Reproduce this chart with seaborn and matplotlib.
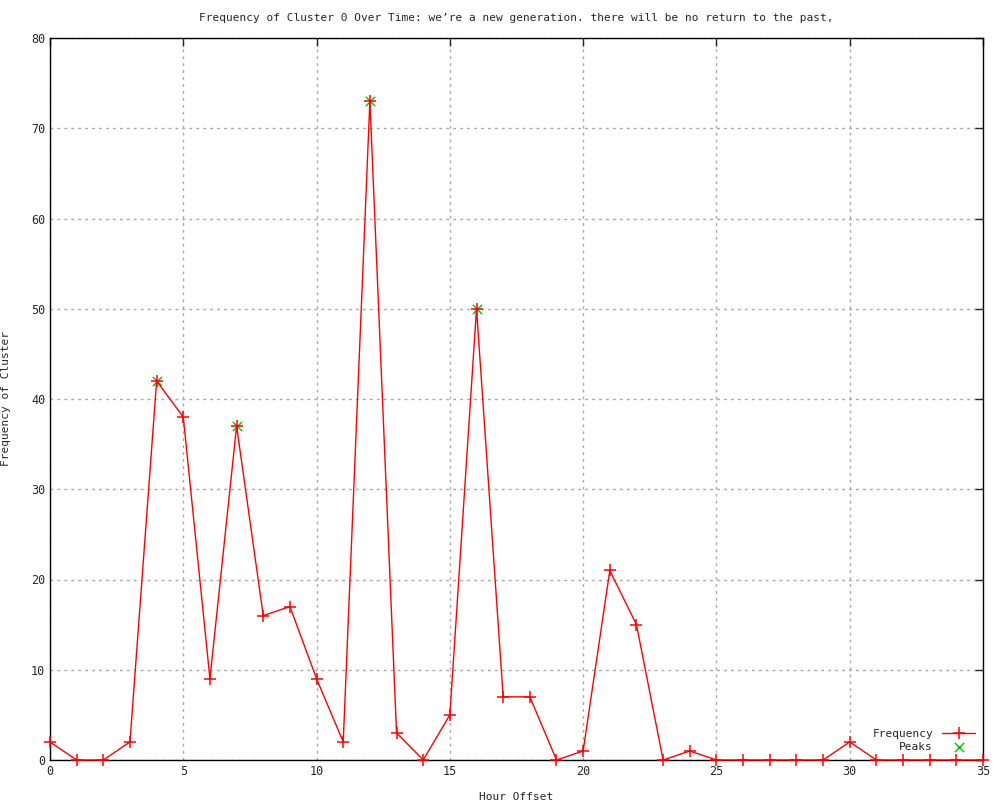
import pandas as pd
import seaborn as sns
import matplotlib
matplotlib.use('Agg')
import matplotlib.pyplot as plt

# hour offsets and cluster counts
hours = list(range(36))
freq = [2, 0, 0, 2, 42, 38, 9, 37, 16, 17, 9, 2, 73, 3, 0, 5, 50, 7, 7, 0,
        1, 21, 15, 0, 1, 0, 0, 0, 0, 0, 2, 0, 0, 0, 0, 0]
peak_hours = [4, 7, 12, 16]
peak_freq = [42, 37, 73, 50]

sns.set_style('white')
plt.rcParams['font.family'] = ['DejaVu Sans Mono']

df = pd.DataFrame({'Hour Offset': hours, 'Frequency': freq})
peaks = pd.DataFrame({'Hour Offset': peak_hours, 'Frequency': peak_freq})

fig = plt.figure(figsize=(10, 8), dpi=100)
ax = fig.add_axes([0.05, 0.05, 0.933, 0.9025])

sns.scatterplot(data=peaks, x='Hour Offset', y='Frequency', ax=ax, marker='x',
                color='#00c000', s=45, linewidth=1.0, label='Peaks', zorder=3)
sns.lineplot(data=df, x='Hour Offset', y='Frequency', ax=ax, color='red',
             marker='+', markersize=8, markeredgewidth=1.1,
             markeredgecolor='red', linewidth=1.0,
             label='Frequency', zorder=4, clip_on=False)

ax.set_xlim(0, 35)
ax.set_ylim(0, 80)
ax.set_xticks(range(0, 36, 5))
ax.set_yticks(range(0, 81, 10))
ax.grid(True, color='#a8a8a8', linestyle=(0, (2, 3)), linewidth=1)
ax.tick_params(direction='in', length=6, top=True, right=True, labelsize=8.5, width=1)
for sp in ax.spines.values():
    sp.set_color('black')
    sp.set_linewidth(1)

ax.set_title('Frequency of Cluster 0 Over Time: we\u2019re a new generation. there will be no return to the past,',
             fontsize=8, pad=12)
ax.set_xlabel('Hour Offset', fontsize=8, labelpad=10)
ax.set_ylabel('Frequency of Cluster', fontsize=8, labelpad=14)

handles, labels = ax.get_legend_handles_labels()
order = [labels.index('Frequency'), labels.index('Peaks')]
ax.legend([handles[i] for i in order], [labels[i] for i in order],
          loc='lower right', frameon=False, markerfirst=False, fontsize=8,
          handlelength=3, borderaxespad=0.3, labelspacing=0.3)

fig.savefig('out.png', dpi=100)
